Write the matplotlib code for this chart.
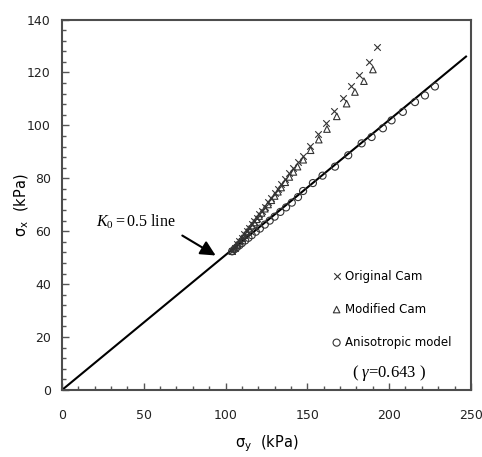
import matplotlib
matplotlib.use("Agg")
import matplotlib.pyplot as plt
from matplotlib.ticker import MultipleLocator
from matplotlib.font_manager import FontProperties

# --- data ---
orig_x = [104, 105.5, 107, 108.5, 110, 111.5, 113, 114.5, 116, 117.5, 119, 120.5, 122,
          124, 126, 128, 130, 132, 134, 136.5, 139, 141.5, 144, 147.3, 151.6, 156.5,
          161.4, 166.3, 171.8, 176.7, 181.6, 187.7, 192.5]
orig_y = [52.5, 53.8, 55.0, 56.3, 57.5, 58.8, 60.1, 61.3, 62.6, 63.8, 65.1, 66.4, 67.6,
          69.3, 71.0, 72.7, 74.3, 76.0, 77.7, 79.8, 81.9, 84.0, 86.1, 88.5, 92.3, 96.7,
          101.0, 105.4, 110.2, 114.7, 119.0, 124.0, 129.5]

mod_x = [104, 105.5, 107, 108.5, 110, 111.5, 113, 114.5, 116, 117.5, 119, 120.5, 122,
         124, 126, 128, 130, 132, 134, 136.5, 139, 141.5, 144, 147.5, 152, 157, 162,
         168, 174, 179.1, 184.6, 190.1]
mod_y = [52.5, 53.7, 54.9, 56.1, 57.3, 58.5, 59.7, 60.9, 62.1, 63.3, 64.5, 65.7, 66.9,
         68.5, 70.1, 71.7, 73.3, 74.9, 76.5, 78.5, 80.5, 82.4, 84.4, 87.0, 90.6, 94.6,
         98.6, 103.4, 108.2, 112.6, 116.7, 121.1]

aniso_x = [104, 105.5, 107, 108.5, 110, 112, 114, 116, 118.5, 121, 124, 127, 130, 133.5,
           137, 140.5, 144.3, 147.4, 153.4, 159.3, 166.9, 175, 183.2, 189.3, 196.2,
           201.5, 208.4, 215.8, 221.9, 228]
aniso_y = [52.4, 53.2, 54.0, 54.7, 55.5, 56.5, 57.5, 58.5, 59.8, 61.0, 62.5, 64.0, 65.5,
           67.3, 69.0, 70.8, 72.9, 75.2, 78.2, 81.0, 84.4, 88.7, 93.2, 95.6, 98.9, 101.9,
           105.1, 108.8, 111.3, 114.7]

k0_x = [0, 247]
k0_y = [0, 126]

plt.rcParams["mathtext.fontset"] = "custom"
plt.rcParams["mathtext.rm"] = "Liberation Serif"
plt.rcParams["mathtext.it"] = "Liberation Serif:italic"

def narrow(size):
    return FontProperties(family="DejaVu Sans", size=size)

grey = "#333333"

fig = plt.figure(figsize=(4.82, 4.57), dpi=100)
ax = fig.add_axes([0.1286, 0.1466, 0.8484, 0.8107])

ax.plot(k0_x, k0_y, color="black", lw=1.5, zorder=2)
ax.scatter(orig_x, orig_y, marker="x", s=22, c=grey, linewidths=0.8, zorder=3,
           label="Original Cam")
ax.scatter(mod_x, mod_y, marker="^", s=22, facecolors="none", edgecolors=grey,
           linewidths=0.8, zorder=3, label="Modified Cam")
ax.scatter(aniso_x, aniso_y, marker="o", s=26, facecolors="none", edgecolors=grey,
           linewidths=0.8, zorder=3, label="Anisotropic model")

ax.set_xlim(0, 250)
ax.set_ylim(0, 140)
ax.xaxis.set_major_locator(MultipleLocator(50))
ax.xaxis.set_minor_locator(MultipleLocator(10))
ax.yaxis.set_major_locator(MultipleLocator(20))
ax.yaxis.set_minor_locator(MultipleLocator(4))
ax.tick_params(which="both", direction="in", color="#555555", width=1)
ax.tick_params(which="major", length=5)
ax.tick_params(which="minor", length=3)
ax.tick_params(axis="x", which="major", pad=14)
ax.tick_params(axis="y", which="major", pad=8)
for lab in ax.get_xticklabels() + ax.get_yticklabels():
    lab.set_fontproperties(narrow(9))
    lab.set_color("#222222")
for sp in ax.spines.values():
    sp.set_color("#4d4d4d")
    sp.set_linewidth(1.5)

ax.set_xlabel(r"$\mathregular{\sigma_y}$  (kPa)", fontproperties=narrow(10.5), labelpad=8)
ax.set_ylabel(r"$\mathregular{\sigma_x}$  (kPa)", fontproperties=narrow(10.5))
ax.yaxis.set_label_coords(-0.075, 0.5)

# K0 line annotation
ax.annotate("", xy=(95.4, 50.3), xytext=(72.1, 58.9),
            arrowprops=dict(arrowstyle="-|>,head_length=0.9,head_width=0.45",
                            color="black", lw=1.5))
ax.text(20.5, 63.4, r"$\mathit{K_0}$$\mathregular{=0.5\ line}$", family="Liberation Serif",
        fontsize=11.5, va="center", ha="left")

leg = ax.legend(loc="upper left", bbox_to_anchor=(0.66, 0.325), frameon=False,
                handletextpad=0.3, labelspacing=1.7, handlelength=0.8,
                borderaxespad=0, borderpad=0, prop=narrow(8.5))
ax.text(0.8, 0.045, "( $\\gamma$=0.643 )", transform=ax.transAxes,
        family="Liberation Serif", fontsize=12, ha="center", va="center")

fig.savefig("out.png", dpi=100)
